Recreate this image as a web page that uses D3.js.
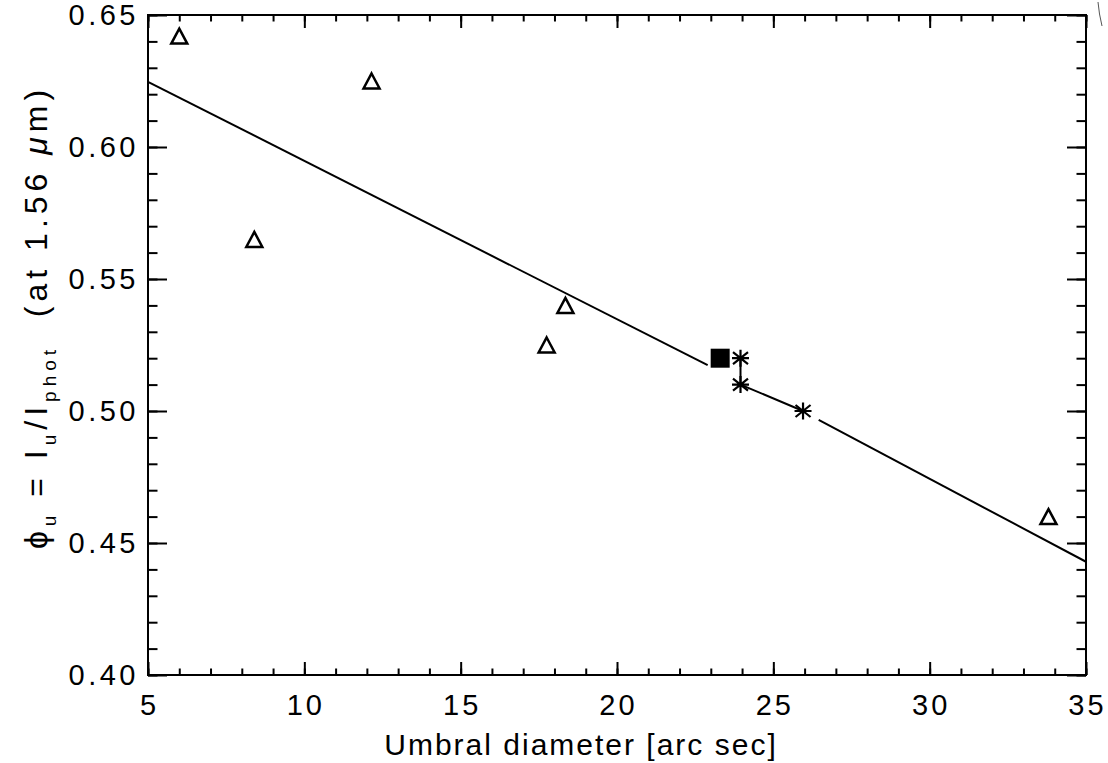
<!DOCTYPE html>
<html>
<head>
<meta charset="utf-8">
<script src="https://cdn.jsdelivr.net/npm/d3@7"></script>
<style>
  body { margin: 0; background: #fff; }
  svg { display: block; }
  text { font-family: "Liberation Sans", Arial, sans-serif; fill: #000; }
</style>
</head>
<body>
<div class="container"></div>
<script>
// umbral contrast vs umbral diameter

var xDomain = [5, 35];
var yDomain = [0.40, 0.65];
var xTicks = [5, 10, 15, 20, 25, 30, 35];
var yTicks = [0.40, 0.45, 0.50, 0.55, 0.60, 0.65];

// open triangles
var triX = [6.0, 8.4, 12.15, 17.75, 18.35, 33.8];
var triY = [0.642, 0.565, 0.625, 0.525, 0.540, 0.460];

// filled square
var sqX = [23.3];
var sqY = [0.520];

// asterisks, joined by a line
var starX = [23.95, 23.95, 25.95];
var starY = [0.520, 0.510, 0.500];

// fitted line, drawn in two pieces (gap around the symbols)
var fitX1 = [5, 22.9];
var fitY1 = [0.6247, 0.5174];
var fitX2 = [26.45, 35];
var fitY2 = [0.4966, 0.4429];

var opts = {width: 1108, height: 763,
            left: 148, right: 1086, top: 15, bottom: 675};

var svg = d3.select(".container")
    .append("svg")
    .attr("width", opts.width)
    .attr("height", opts.height);

var x = d3.scaleLinear().domain(xDomain).range([opts.left, opts.right]);
var y = d3.scaleLinear().domain(yDomain).range([opts.bottom, opts.top]);

var minorX = d3.range(5, 35.01, 1);
var minorY = d3.range(0, 26).map(function(i){ return +(0.40 + i * 0.01).toFixed(2); });

// frame
svg.append("rect")
    .attr("x", opts.left).attr("y", opts.top)
    .attr("width", opts.right - opts.left)
    .attr("height", opts.bottom - opts.top)
    .attr("fill", "none").attr("stroke", "#000").attr("stroke-width", 2);

function styleAxis(g) {
  g.select(".domain").remove();
  g.selectAll("line").attr("stroke", "#000").attr("stroke-width", 2);
}

// minor ticks, pointing inward
svg.append("g").attr("transform", "translate(0," + opts.bottom + ")")
    .call(d3.axisBottom(x).tickValues(minorX).tickSize(-6.5).tickFormat("")).call(styleAxis);
svg.append("g").attr("transform", "translate(0," + opts.top + ")")
    .call(d3.axisTop(x).tickValues(minorX).tickSize(-6.5).tickFormat("")).call(styleAxis);
svg.append("g").attr("transform", "translate(" + opts.left + ",0)")
    .call(d3.axisLeft(y).tickValues(minorY).tickSize(-9.5).tickFormat("")).call(styleAxis);
svg.append("g").attr("transform", "translate(" + opts.right + ",0)")
    .call(d3.axisRight(y).tickValues(minorY).tickSize(-9.5).tickFormat("")).call(styleAxis);

// major ticks
svg.append("g").attr("transform", "translate(0," + opts.bottom + ")")
    .call(d3.axisBottom(x).tickValues(xTicks).tickSize(-13).tickFormat("")).call(styleAxis);
svg.append("g").attr("transform", "translate(0," + opts.top + ")")
    .call(d3.axisTop(x).tickValues(xTicks).tickSize(-13).tickFormat("")).call(styleAxis);
svg.append("g").attr("transform", "translate(" + opts.left + ",0)")
    .call(d3.axisLeft(y).tickValues(yTicks).tickSize(-19).tickFormat("")).call(styleAxis);
svg.append("g").attr("transform", "translate(" + opts.right + ",0)")
    .call(d3.axisRight(y).tickValues(yTicks).tickSize(-19).tickFormat("")).call(styleAxis);

// tick labels
svg.selectAll("text.xlab")
    .data(xTicks)
  .enter().append("text")
    .attr("class", "xlab")
    .attr("x", function(d){ return x(d) + 1.5; })
    .attr("y", 715)
    .attr("text-anchor", "middle")
    .attr("font-size", 29)
    .attr("letter-spacing", 3)
    .text(function(d){ return d; });

svg.selectAll("text.ylab")
    .data(yTicks)
  .enter().append("text")
    .attr("class", "ylab")
    .attr("x", 139)
    .attr("y", function(d){ return y(d) + 10; })
    .attr("text-anchor", "end")
    .attr("font-size", 29)
    .attr("letter-spacing", 3.5)
    .text(function(d){ return d3.format(".2f")(d); });

// axis titles
svg.append("text")
    .attr("x", 581)
    .attr("y", 755)
    .attr("text-anchor", "middle")
    .attr("font-size", 30)
    .attr("letter-spacing", 2)
    .text("Umbral diameter [arc sec]");

var ytitle = svg.append("text")
    .attr("transform", "translate(47,317) rotate(-90)")
    .attr("text-anchor", "middle")
    .attr("font-size", 32)
    .attr("letter-spacing", 5)
    .attr("xml:space", "preserve");
ytitle.append("tspan").text("\u03d5");
ytitle.append("tspan").attr("font-size", 19).attr("dy", 9).text("u");
ytitle.append("tspan").attr("dy", -9).text(" = I");
ytitle.append("tspan").attr("font-size", 19).attr("dy", 9).text("u");
ytitle.append("tspan").attr("dy", -9).text("/I");
ytitle.append("tspan").attr("font-size", 19).attr("dy", 9).text("phot");
ytitle.append("tspan").attr("dy", -9).text("  (at 1.56 ");
ytitle.append("tspan").attr("font-style", "italic").text("\u03bc");
ytitle.append("tspan").text("m)");

// fitted line
var line = d3.line()
    .x(function(d){ return x(d[0]); })
    .y(function(d){ return y(d[1]); });

[[fitX1, fitY1], [fitX2, fitY2]].forEach(function(seg){
  svg.append("path")
      .datum(d3.zip(seg[0], seg[1]))
      .attr("d", line)
      .attr("fill", "none")
      .attr("stroke", "#000")
      .attr("stroke-width", 2);
});

// asterisk connecting line
svg.append("path")
    .datum(d3.zip(starX, starY))
    .attr("d", line)
    .attr("fill", "none")
    .attr("stroke", "#000")
    .attr("stroke-width", 2);

// triangles
svg.selectAll("path.tri")
    .data(d3.zip(triX, triY))
  .enter().append("path")
    .attr("class", "tri")
    .attr("d", "M0,-7.5L8,7.5L-8,7.5Z")
    .attr("transform", function(d){ return "translate(" + x(d[0]) + "," + y(d[1]) + ")"; })
    .attr("fill", "none")
    .attr("stroke", "#000")
    .attr("stroke-width", 2.5);

// filled square
svg.selectAll("rect.sq")
    .data(d3.zip(sqX, sqY))
  .enter().append("rect")
    .attr("class", "sq")
    .attr("x", function(d){ return x(d[0]) - 9.5; })
    .attr("y", function(d){ return y(d[1]) - 9.5; })
    .attr("width", 19)
    .attr("height", 19)
    .attr("fill", "#000");

// asterisks
var starPath = "M0,-8.5L0,8.5M-7.5,-6L7.5,6M-7.5,6L7.5,-6M-8.5,0L8.5,0";
svg.selectAll("path.star")
    .data(d3.zip(starX, starY))
  .enter().append("path")
    .attr("class", "star")
    .attr("d", starPath)
    .attr("transform", function(d){ return "translate(" + x(d[0]) + "," + y(d[1]) + ")"; })
    .attr("fill", "none")
    .attr("stroke", "#000")
    .attr("stroke-width", 2.2);

// scan mark at the top right corner
svg.append("path")
    .attr("d", "M1098,2Q1099,14 1102,26")
    .attr("fill", "none")
    .attr("stroke", "#555")
    .attr("stroke-width", 1);
</script>
</body>
</html>
